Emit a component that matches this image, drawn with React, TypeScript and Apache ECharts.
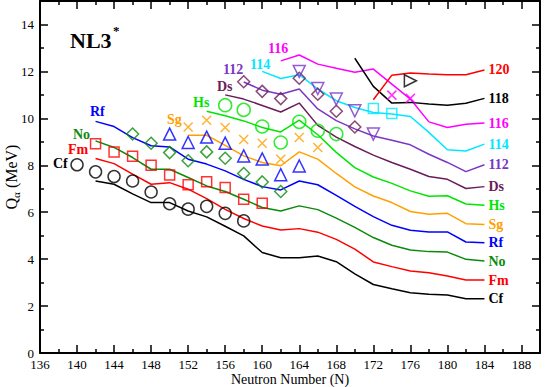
import React, { useEffect, useRef } from 'react';
import * as echarts from 'echarts';

const FONT = '"Liberation Serif", "Times New Roman", serif';

// Theory curves: all end at N = 184, listed from their first neutron number
const THEORY_N = [142, 144, 146, 148, 150, 152, 154, 156, 158, 160, 162, 164, 166, 168, 170, 172, 174, 176, 178, 180, 182, 184];
const cfTheory = [7.33, 7.19, 6.78, 6.41, 6.41, 6.05, 5.80, 5.40, 4.99, 4.28, 4.06, 4.06, 4.13, 3.89, 3.37, 2.92, 2.74, 2.57, 2.50, 2.47, 2.31, 2.31];
const fmTheory = [8.29, 8.07, 7.62, 7.19, 7.26, 6.98, 6.58, 6.12, 5.73, 5.41, 5.24, 5.30, 5.15, 4.84, 4.43, 3.88, 3.68, 3.49, 3.42, 3.28, 3.11, 3.11];
const noTheory = [9.04, 8.76, 8.33, 7.83, 7.83, 7.48, 7.12, 6.88, 6.55, 6.20, 6.05, 6.27, 6.11, 5.75, 5.35, 4.92, 4.59, 4.39, 4.32, 4.30, 3.99, 3.92];
const rfTheory = [9.87, 9.65, 9.18, 8.83, 8.78, 8.26, 8.05, 7.76, 7.40, 7.09, 6.95, 7.33, 7.17, 6.72, 6.25, 5.81, 5.44, 5.23, 5.16, 5.16, 4.73, 4.70];
const sgTheory = [9.28, 9.28, 8.85, 8.40, 8.12, 7.98, 8.57, 8.26, 7.65, 7.08, 6.69, 6.41, 6.03, 5.91, 5.95, 5.51, 5.48];
const hsTheory = [10.30, 10.11, 9.89, 9.61, 9.42, 9.92, 9.30, 8.55, 7.90, 7.50, 7.23, 6.91, 6.68, 6.70, 6.35, 6.30];
const dsTheory = [11.00, 10.82, 10.55, 10.27, 10.65, 9.70, 9.20, 8.80, 8.43, 8.12, 7.83, 7.52, 7.40, 7.01, 7.09];
const z112Theory = [11.55, 11.20, 11.03, 11.25, 10.40, 9.90, 9.55, 9.25, 9.07, 8.87, 8.47, 8.12, 7.73, 8.02];
const z114Theory = [12.00, 11.70, 11.86, 11.25, 10.75, 10.46, 10.25, 10.18, 10.08, 9.40, 8.66, 8.61, 8.90];
const z116Theory = [12.45, 12.70, 12.31, 12.13, 11.96, 12.10, 11.46, 10.82, 9.85, 9.61, 9.75, 9.80];
const z118Theory = [12.56, 11.36, 10.65, 10.68, 10.61, 10.56, 10.64, 10.85];
const z120Theory = [10.79, 11.84, 11.93, 11.89, 11.86, 11.86, 12.06];

// Experimental values
const cfExpN = [140, 142, 144, 146, 148, 150, 152, 154, 156, 158];
const cfExp = [8.02, 7.72, 7.52, 7.33, 6.86, 6.36, 6.13, 6.25, 5.95, 5.63];
const fmExpN = [142, 144, 146, 148, 150, 152, 154, 156, 158, 160];
const fmExp = [8.92, 8.57, 8.38, 8.00, 7.58, 7.17, 7.30, 7.05, 6.55, 6.38];
const noExpN = [146, 148, 150, 152, 154, 156, 158, 160, 162];
const noExp = [9.33, 8.94, 8.54, 8.19, 8.57, 8.30, 7.65, 7.29, 6.88];
const rfExpN = [150, 152, 154, 156, 158, 160, 162, 164];
const rfExp = [9.33, 8.97, 9.20, 8.94, 8.40, 8.27, 7.60, 7.97];
const sgExpN = [152, 154, 156, 158, 160, 162, 164, 166];
const sgExp = [9.63, 9.92, 9.61, 9.10, 8.94, 8.26, 9.18, 8.76];
const hsExpN = [156, 158, 160, 162, 164, 166, 168];
const hsExp = [10.56, 10.36, 9.65, 8.97, 9.85, 9.47, 9.33];
const dsExpN = [158, 160, 162, 164, 166, 168, 170];
const dsExp = [11.56, 11.15, 10.84, 11.71, 11.03, 10.30, 9.63];
const z112ExpN = [164, 166, 168, 170, 172];
const z112Exp = [12.00, 11.27, 10.82, 10.32, 9.33];
const z114ExpN = [172, 174];
const z114Exp = [10.42, 10.21];
const z116ExpN = [174, 176];
const z116Exp = [10.99, 10.85];
const z118ExpN = [176];
const z118Exp = [11.60];

const C = {
  cf: '#000000',
  fm: '#ff0000',
  no: '#0b8a0b',
  rf: '#0000ff',
  sg: '#ffa000',
  hs: '#00e600',
  ds: '#6a1d5a',
  z112: '#7b35c4',
  z114: '#00e8ff',
  z116: '#ff00ff',
  z118: '#000000',
  z120: '#ff0000',
};

const pair = (ns: number[], qs: number[]) => qs.map((q, i) => [ns[i], q]);
const tail = (qs: number[]) => pair(THEORY_N.slice(THEORY_N.length - qs.length), qs);

const CROSS = 'path://M0,0L10,10M10,0L0,10';

export default function App() {
  const ref = useRef<HTMLDivElement>(null);
  useEffect(() => {
    if (!ref.current) return;
    const chart = echarts.init(ref.current, null, { renderer: 'svg' });

    const lines = [
      { name: 'Cf', color: C.cf, values: cfTheory },
      { name: 'Fm', color: C.fm, values: fmTheory },
      { name: 'No', color: C.no, values: noTheory },
      { name: 'Rf', color: C.rf, values: rfTheory },
      { name: 'Sg', color: C.sg, values: sgTheory },
      { name: 'Hs', color: C.hs, values: hsTheory },
      { name: 'Ds', color: C.ds, values: dsTheory },
      { name: '112', color: C.z112, values: z112Theory },
      { name: '114', color: C.z114, values: z114Theory },
      { name: '116', color: C.z116, values: z116Theory },
      { name: '118', color: C.z118, values: z118Theory },
      { name: '120', color: C.z120, values: z120Theory },
    ];

    const lineSeries = lines.map((l) => ({
      type: 'line',
      name: l.name,
      data: tail(l.values),
      showSymbol: false,
      symbol: 'none',
      lineStyle: { color: l.color, width: 1.5 },
      itemStyle: { color: l.color },
      z: 2,
      endLabel: {
        show: true,
        formatter: '{a}',
        color: l.color,
        fontFamily: FONT,
        fontWeight: 'bold',
        fontSize: 14,
        distance: 4,
      },
    }));

    const exps = [
      { data: pair(cfExpN, cfExp), color: C.cf, symbol: 'circle', size: 12, rot: 0 },
      { data: pair(fmExpN, fmExp), color: C.fm, symbol: 'rect', size: 10, rot: 0 },
      { data: pair(noExpN, noExp), color: C.no, symbol: 'diamond', size: 12, rot: 0 },
      { data: pair(rfExpN, rfExp), color: C.rf, symbol: 'triangle', size: 12, rot: 0 },
      { data: pair(sgExpN, sgExp), color: C.sg, symbol: CROSS, size: 9, rot: 0 },
      { data: pair(hsExpN, hsExp), color: C.hs, symbol: 'circle', size: 13, rot: 0 },
      { data: pair(dsExpN, dsExp), color: C.ds, symbol: 'diamond', size: 12, rot: 0 },
      { data: pair(z112ExpN, z112Exp), color: C.z112, symbol: 'triangle', size: 12, rot: 180 },
      { data: pair(z114ExpN, z114Exp), color: C.z114, symbol: 'rect', size: 10, rot: 0 },
      { data: pair(z116ExpN, z116Exp), color: C.z116, symbol: CROSS, size: 9, rot: 0 },
      { data: pair(z118ExpN, z118Exp), color: C.z118, symbol: 'triangle', size: 12, rot: -90 },
    ];

    const scatterSeries = exps.map((e) => ({
      type: 'scatter',
      data: e.data,
      symbol: e.symbol,
      symbolSize: e.size,
      symbolRotate: e.rot,
      itemStyle: { color: 'none', borderColor: e.color, borderWidth: 1.5 },
      z: 3,
    }));

    const tickCommon = {
      axisLine: { show: true, onZero: false, lineStyle: { color: '#000', width: 2 } },
      axisTick: { show: true, inside: true, length: 8, lineStyle: { color: '#000', width: 1.5 } },
      minorTick: { show: true, splitNumber: 2, length: 4, lineStyle: { color: '#000', width: 1.5 } },
      splitLine: { show: false },
      minorSplitLine: { show: false },
    };

    const labelText = (x: number, y: number, text: string, color: string) => ({
      type: 'text',
      left: x,
      top: y - 8,
      style: { text, fill: color, font: `bold 14px ${FONT}` },
      z: 10,
    });

    chart.setOption({
      animation: false,
      backgroundColor: '#fff',
      grid: { left: 40, right: 5, top: 1, bottom: 34, containLabel: false, outerBoundsMode: 'none' },
      xAxis: [
        {
          type: 'value',
          position: 'bottom',
          min: 136,
          max: 190,
          interval: 4,
          ...tickCommon,
          axisLabel: { color: '#000', fontFamily: FONT, fontSize: 13, margin: 5, showMaxLabel: false },
          name: 'Neutron Number (N)',
          nameLocation: 'middle',
          nameGap: 19,
          nameMoveOverlap: false,
          nameTextStyle: { color: '#000', fontFamily: FONT, fontSize: 14 },
        },
        {
          type: 'value',
          position: 'top',
          min: 136,
          max: 190,
          interval: 4,
          ...tickCommon,
          axisLabel: { show: false },
        },
      ],
      yAxis: [
        {
          type: 'value',
          position: 'left',
          min: 0,
          max: 15,
          interval: 2,
          ...tickCommon,
          axisLabel: { color: '#000', fontFamily: FONT, fontSize: 13, margin: 6, showMaxLabel: false },
          name: '{q|Q}{s|α}{q| (MeV)}',
          nameLocation: 'middle',
          nameGap: 19,
          nameMoveOverlap: false,
          nameRotate: 90,
          nameTextStyle: {
            color: '#000',
            fontFamily: FONT,
            fontSize: 16,
            rich: {
              q: { fontFamily: FONT, fontSize: 16, color: '#000', lineHeight: 20 },
              s: { fontFamily: FONT, fontSize: 11, color: '#000', lineHeight: 12, verticalAlign: 'bottom' },
            },
          },
        },
        {
          type: 'value',
          position: 'right',
          min: 0,
          max: 15,
          interval: 2,
          ...tickCommon,
          axisLabel: { show: false },
        },
      ],
      graphic: [
        { type: 'text', left: 70, top: 29, style: { text: 'NL3', fill: '#000', font: `bold 22px ${FONT}` }, z: 10 },
        { type: 'text', left: 113, top: 24, style: { text: '*', fill: '#000', font: `bold 13px ${FONT}` }, z: 10 },
        labelText(53, 164, 'Cf', C.cf),
        labelText(68, 150, 'Fm', C.fm),
        labelText(73, 135, 'No', C.no),
        labelText(90, 112, 'Rf', C.rf),
        labelText(167, 120, 'Sg', C.sg),
        labelText(193, 103, 'Hs', C.hs),
        labelText(217, 87, 'Ds', C.ds),
        labelText(223, 70, '112', C.z112),
        labelText(250, 65, '114', C.z114),
        labelText(268, 49, '116', C.z116),
      ],
      series: [...lineSeries, ...scatterSeries],
    });

    return () => chart.dispose();
  }, []);

  return <div ref={ref} style={{ position: 'absolute', left: 0, top: 0, width: 545, height: 387 }} />;
}
